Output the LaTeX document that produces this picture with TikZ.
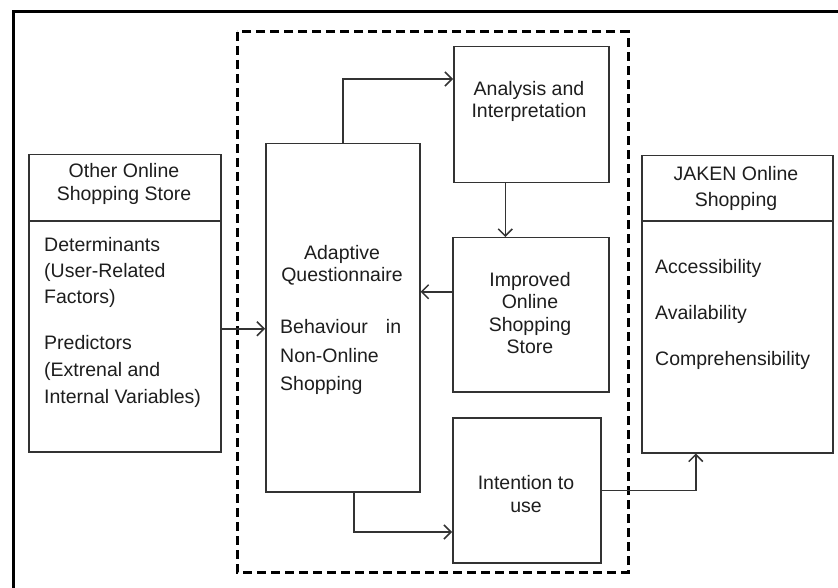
\documentclass[tikz,border=0pt]{standalone}
\usepackage{fontspec}
\setmainfont{Liberation Sans}
\usetikzlibrary{arrows.meta,calc}
\definecolor{boxc}{HTML}{333333}
\definecolor{txtc}{HTML}{1E1E1E}
\tikzset{
  boxn/.style={draw=boxc,line width=1.5pt,rectangle,inner sep=0pt,anchor=north west},
  arr/.style={draw=boxc,line width=1.5pt,-{Straight Barb[length=7pt,width=14pt,line width=1.5pt]}},
  lab/.style={text=txtc,inner sep=0pt,font=\fontsize{19.5}{23}\selectfont},
  frame/.style={line width=3pt,black},
  dashbox/.style={line width=3pt,black,dash pattern=on 9pt off 5pt},
}
\begin{document}
\begin{tikzpicture}[x=1pt,y=-1pt]
\useasboundingbox (0,0) rectangle (838,588);
\fill[white] (0,0) rectangle (838,588);
% outer frame (cut by the picture edge)
\coordinate (ftr) at (845,12);
\coordinate (ftl) at (13,12);
\coordinate (fbl) at (13,595);
\draw[frame] (ftr) -- (ftl) -- (fbl);
% dashed region
\coordinate (dtl) at (237,32);
\coordinate (dbr) at (628,572);
\draw[dashbox] (dtl) rectangle (dbr);
% boxes
\node[boxn,minimum width=192pt,minimum height=297pt] (other) at (28,154) {};
\node[boxn,minimum width=154pt,minimum height=348pt] (adapt) at (265,143) {};
\node[boxn,minimum width=155pt,minimum height=136pt] (anal) at (453,46) {};
\node[boxn,minimum width=156pt,minimum height=154pt] (impr) at (452,237) {};
\node[boxn,minimum width=148pt,minimum height=145pt] (inten) at (452,417) {};
\node[boxn,minimum width=191pt,minimum height=297pt] (jaken) at (641,155) {};
% dividers
\coordinate (dv) at (0,221);
\draw[draw=boxc,line width=1.5pt] (other.west |- dv) -- (other.east |- dv);
\draw[draw=boxc,line width=1.5pt] (jaken.west |- dv) -- (jaken.east |- dv);
% texts
\node[lab,align=center] (t1) at (124,184) {Other Online\\Shopping Store};
\node[lab,align=left,anchor=west,font=\fontsize{19.5}{26}\selectfont] (t2) at (44,272) {Determinants\\(User-Related\\Factors)};
\node[lab,align=left,anchor=west,font=\fontsize{19.5}{27}\selectfont] (t3) at (44,371) {Predictors\\(Extrenal and\\Internal Variables)};
\node[lab,align=center,font=\fontsize{19.5}{22}\selectfont] (t4) at (342,265) {Adaptive\\Questionnaire};
\node[lab,align=left,anchor=west,font=\fontsize{19.5}{28.5}\selectfont] (t5) at (280,357) {Behaviour\hspace{18pt}in\\Non-Online\\Shopping};
\node[lab,align=center,font=\fontsize{19.5}{22}\selectfont] (t6) at (529,101) {Analysis and\\Interpretation};
\node[lab,align=center,font=\fontsize{19.5}{22.5}\selectfont] (t7) at (530,313) {Improved\\Online\\Shopping\\Store};
\node[lab,align=center] (t8) at (526,494) {Intention to\\use};
\node[lab,align=center,font=\fontsize{19.5}{26}\selectfont] (t9) at (736,188) {JAKEN Online\\Shopping};
\node[lab,anchor=west] (t10) at (655,268) {Accessibility};
\node[lab,anchor=west] (t11) at (655,314) {Availability};
\node[lab,anchor=west] (t12) at (655,360) {Comprehensibility};
% connectors
\draw[arr] (adapt.north) |- ([yshift=-33pt]anal.north west);
\draw[arr] ([xshift=-26pt]anal.south) -- ([xshift=-26pt]anal.south |- impr.north);
\coordinate (ia) at ([yshift=23pt]impr.west);
\draw[arr] (ia) -- (adapt.east |- ia);
\coordinate (oa) at ([yshift=-25.5pt]other.east);
\draw[arr] (oa) -- (adapt.west |- oa);
\coordinate (y532) at (0,532);
\draw[arr] ([xshift=11pt]adapt.south) |- (inten.west |- y532);
\draw[arr] (inten.east) -| ([xshift=-41.5pt]jaken.south);
\end{tikzpicture}
\end{document}
